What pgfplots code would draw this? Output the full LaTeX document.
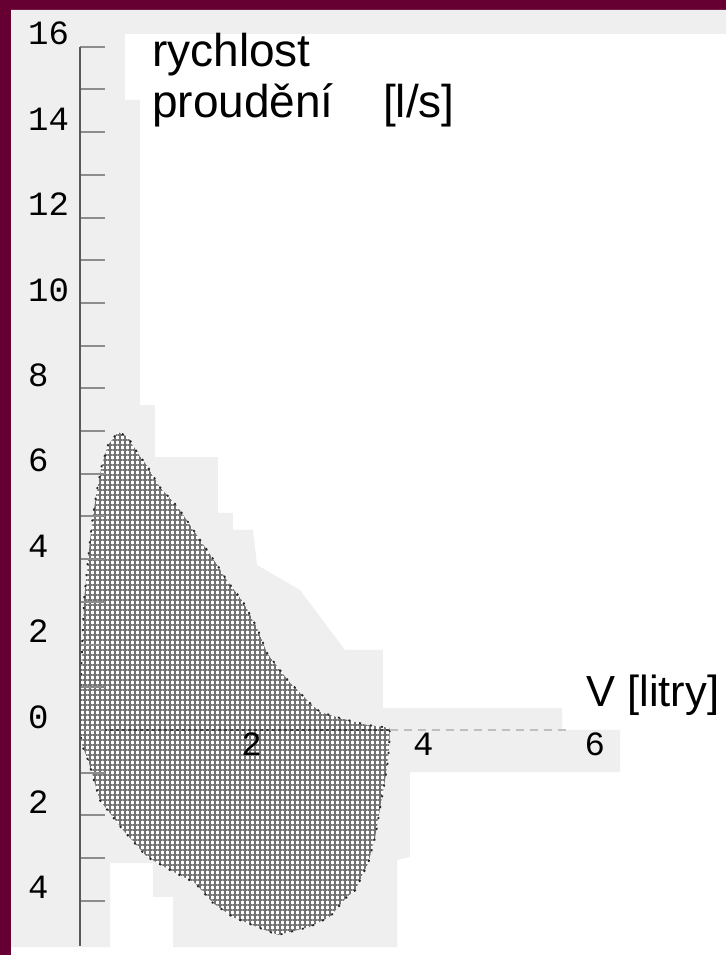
\documentclass[border=0pt]{standalone}
\usepackage{fontspec}
\setmainfont{Liberation Sans}
\setmonofont{Liberation Mono}
\usepackage{pgfplots}
\pgfplotsset{compat=1.18}
\usepackage{pgfplotstable}
\usetikzlibrary{patterns.meta}
\definecolor{maroon}{HTML}{660033}
\definecolor{bggray}{HTML}{EFEFEF}

\pgfplotstableread{
x y
0 0
0 0.70
0.023 1.87
0.047 3.04
0.082 3.75
0.117 4.45
0.152 5.04
0.198 5.62
0.256 6.21
0.326 6.67
0.443 6.98
0.56 6.86
0.664 6.51
0.79 6.16
0.93 5.69
1.14 5.22
1.40 4.45
1.60 3.86
1.71 3.51
1.90 3.00
2.06 2.41
2.18 1.80
2.42 1.17
2.68 0.63
2.80 0.42
3.03 0.28
3.34 0.12
3.61 0.05
3.61 -0.16
3.59 -0.70
3.55 -1.24
3.50 -1.80
3.44 -2.51
3.36 -3.11
3.21 -3.75
3.11 -3.91
2.91 -4.38
2.68 -4.61
2.31 -4.80
2.06 -4.61
1.78 -4.38
1.55 -4.05
1.34 -3.58
1.05 -3.28
0.78 -2.97
0.50 -2.34
0.23 -1.64
0.093 -0.70
0.023 -0.35
0 0
}\loopdata

\begin{document}
\begin{tikzpicture}
\begin{axis}[
  set layers, axis on top,
  scale only axis, width=646pt, height=898.835pt,
  xmin=0, xmax=7.5291, ymin=-5.05, ymax=16,
  axis y line=left, axis x line=middle,
  axis line style={-},
  x axis line style={-, draw=none},
  y axis line style={-, line width=2.5pt, black!65},
  clip=false,
  tick align=inside,
  ytick={-4,-2,...,16},
  yticklabels={4,2,0,2,4,6,8,10,12,14,16},
  minor ytick={-3,-1,...,15},
  major tick length=25pt, minor tick length=25pt,
  ytick style={black!45, line width=2pt},
  every minor tick/.append style={black!45, line width=2pt},
  xtick={2,4,6}, xticklabels={2,4,6},
  xtick style={draw=none},
  extra x ticks={1,2}, extra x tick labels={},
  extra x tick style={major tick length=22pt, tick style={draw=black!60, line width=1pt}},
  /pgf/number format/assume math mode=true,
  ticklabel style={font=\fontsize{34}{34}\selectfont\ttfamily, text=black},
  yticklabel style={anchor=west, inner sep=0pt, xshift=-52pt, yshift=13pt},
  xticklabel style={anchor=north, inner sep=0pt, yshift=-3pt},
]
\coordinate (BL) at (axis cs:-0.9324,-5.2693);
\coordinate (TR) at (axis cs:7.5291,17.096);
\fill[maroon] (axis cs:-0.9324,-5.2693) rectangle (axis cs:7.5291,17.096);
\fill[white] (axis cs:-0.804,-5.2693) rectangle (axis cs:7.5291,16.862);
\fill[bggray] (axis cs:-0.804,16.862) -- (axis cs:7.5291,16.862) -- (axis cs:7.5291,16.300)
  -- (axis cs:0.524,16.300) -- (axis cs:0.524,14.754) -- (axis cs:0.699,14.754)
  -- (axis cs:0.699,7.611) -- (axis cs:0.874,7.611) -- (axis cs:0.874,6.393)
  -- (axis cs:1.608,6.393) -- (axis cs:1.608,5.082) -- (axis cs:1.783,5.082)
  -- (axis cs:1.783,4.684) -- (axis cs:2.016,4.684) -- (axis cs:2.063,3.864)
  -- (axis cs:2.564,3.279) -- (axis cs:2.914,2.342) -- (axis cs:3.089,1.874)
  -- (axis cs:3.531,1.874) -- (axis cs:3.531,0.515) -- (axis cs:5.618,0.515)
  -- (axis cs:5.618,0) -- (axis cs:6.294,0) -- (axis cs:6.294,-0.984)
  -- (axis cs:3.846,-0.984) -- (axis cs:3.846,-2.974) -- (axis cs:3.695,-3.044)
  -- (axis cs:3.695,-5.082) -- (axis cs:1.084,-5.082) -- (axis cs:1.084,-3.911)
  -- (axis cs:0.851,-3.911) -- (axis cs:0.851,-3.115) -- (axis cs:0.350,-3.115)
  -- (axis cs:0.350,-5.082) -- (axis cs:-0.804,-5.082) -- cycle;
\addplot[draw=none, fill=white, postaction={pattern={Hatch[distance=5pt,angle=0,line width=1.9pt]}, pattern color=black!55}] table[x=x,y=y] {\loopdata};
\addplot[draw=black!85, line width=1.8pt, dash pattern=on 2pt off 9pt] table[x=x,y=y] {\loopdata};
\draw[black!75, line width=1.5pt, dash pattern=on 3pt off 3pt] (axis cs:0,0) -- (axis cs:3.61,0);
\draw[black!25, line width=1.5pt, dash pattern=on 8pt off 6pt] (axis cs:3.61,0) -- (axis cs:5.7,0);
\node[anchor=base west, inner sep=0pt, font=\fontsize{46}{50}\selectfont] at (axis cs:0.839,15.527) {rychlost};
\node[anchor=base west, inner sep=0pt, font=\fontsize{46}{50}\selectfont] at (axis cs:0.839,14.333) {proudění};
\node[anchor=base west, inner sep=0pt, font=\fontsize{46}{50}\selectfont] at (axis cs:3.531,14.333) {[l/s]};
\node[anchor=base west, inner sep=0pt, font=\fontsize{43.5}{48}\selectfont] at (axis cs:5.90,0.539) {V [litry]};
\end{axis}
\pgfresetboundingbox
\useasboundingbox (BL) rectangle (TR);
\end{tikzpicture}
\end{document}
